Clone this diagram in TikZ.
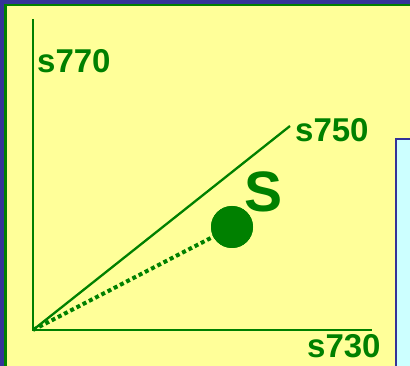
\documentclass[tikz,border=0pt]{standalone}
\usepackage{fontspec}
\setmainfont{Liberation Sans}
\definecolor{bgblue}{HTML}{333399}
\definecolor{panel}{HTML}{FFFF99}
\definecolor{gr}{HTML}{008000}
\definecolor{cyanbox}{HTML}{CCFFFF}
\tikzset{
  axis/.style={draw=gr, line width=2.6pt},
  lab/.style={text=gr, font=\bfseries\fontsize{33}{33}\selectfont, inner sep=0pt, anchor=base west},
}
\begin{document}
\begin{tikzpicture}[x=1pt,y=-1pt]
\useasboundingbox (0,0) rectangle (410,366);
\fill[bgblue] (0,0) rectangle (410,366);
\fill[panel, draw=gr, line width=2.5pt] (5.25,5.25) rectangle (420,380);
\fill[cyanbox, draw=bgblue, line width=1.5pt] (396,139) rectangle (420,380);
\coordinate (o) at (33,330);
\coordinate (ytop) at (33,19);
\coordinate (xend) at (372,330);
\coordinate (dend) at (290,126);
\draw[axis] (ytop) -- (o) -- (xend);
\draw[draw=gr, line width=2.3pt] (o) -- (dend);
\node[circle, fill=gr, minimum size=42pt, inner sep=0pt] (dot) at (232,227) {};
\draw[draw=gr, line width=4pt, dash pattern=on 4pt off 3pt] (o) -- (dot.center);
\node[circle, fill=gr, minimum size=42pt, inner sep=0pt] at (dot.center) {};
\node[lab] (l770) at (37,73) {s770};
\node[lab] (l750) at (295,142) {s750};
\node[lab] (l730) at (307,357) {s730};
\node[lab, font=\bfseries\fontsize{57}{57}\selectfont] (S) at (244,212) {S};
\end{tikzpicture}
\end{document}
